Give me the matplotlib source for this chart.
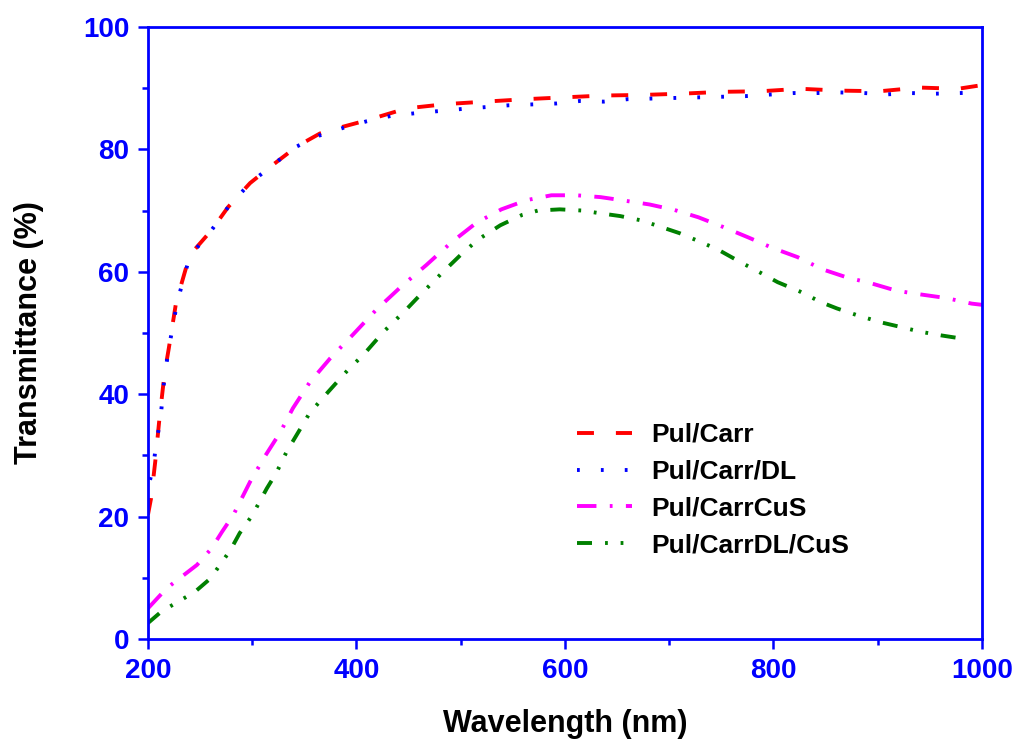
import matplotlib
matplotlib.use('Agg')
import matplotlib.pyplot as plt
from matplotlib.ticker import MultipleLocator

plt.rcParams['font.family'] = ['Liberation Sans', 'DejaVu Sans']
plt.rcParams['font.weight'] = 'bold'
plt.rcParams['lines.scale_dashes'] = False

# values
carr_x = [200, 203, 207, 211, 216, 220, 227, 240, 261, 277, 298, 320, 343, 365, 387, 411,
          448, 486, 523, 562, 599, 637, 675, 712, 750, 788, 826, 864, 902, 940, 977, 1000]
carr_y = [20.3, 23, 29, 36, 43.5, 47.5, 55, 62.7, 66.8, 70.6, 74.5, 77.5, 80.5, 82.6, 83.7, 84.8,
          86.7, 87.4, 87.8, 88.2, 88.5, 88.8, 88.9, 89.1, 89.4, 89.5, 89.9, 89.6, 89.5, 90.1, 89.9, 90.5]

dl_x = [202, 205, 208, 212, 216, 220, 228, 240, 261, 277, 298, 320, 343, 365, 387, 410, 434, 456,
        501, 546, 592, 614, 637, 660, 705, 751, 773, 819, 841, 864, 887, 910, 932, 955, 978, 1000]
dl_y = [26, 28, 32, 36, 43, 47.5, 55, 62.5, 66.8, 70.6, 74.5, 77.5, 80.5, 82.3, 83.5, 84.6, 85.5, 85.9,
        86.6, 87.2, 87.5, 87.9, 87.8, 88.2, 88.4, 88.6, 88.7, 89.2, 89.2, 89.3, 89.2, 89.0, 89.2, 89.1, 89.2, 89.3]

cus_x = [200, 218, 231, 247, 261, 271, 282, 298, 312, 327, 339, 355, 375, 397, 419, 443, 467, 491,
         515, 539, 563, 587, 611, 634, 658, 681, 705, 728, 752, 776, 799, 823, 847, 870, 894, 918,
         941, 966, 990, 1000]
cus_y = [5.0, 8.3, 10, 12.1, 14.8, 17.5, 20.3, 25.7, 29.8, 33.8, 37.7, 41.9, 45.9, 49.8, 53.8, 57.6,
         61.1, 64.8, 68, 70.2, 71.7, 72.5, 72.5, 72.2, 71.6, 71.0, 70.1, 68.9, 67.3, 65.6, 63.9, 62.4,
         60.4, 59.1, 58.1, 56.9, 56.3, 55.7, 54.8, 54.6]

dlcus_x = [200, 213, 229, 245, 260, 269, 279, 288, 300, 314, 323, 333, 346, 355, 373, 392, 407, 426,
           447, 461, 482, 502, 517, 538, 559, 574, 595, 617, 632, 653, 673, 689, 710, 731, 747, 768,
           788, 804, 825, 846, 861, 882, 904, 919, 941, 961, 980]
dlcus_y = [2.6, 4.5, 6.1, 7.7, 9.9, 12.1, 14.5, 17.3, 20.2, 24.6, 27.1, 30.6, 34.3, 36.9, 40.4, 44,
           46.5, 50.2, 53.7, 56.2, 59.8, 63.1, 65.3, 67.6, 69.3, 70, 70.2, 70, 69.6, 69.1, 68.4, 67.5,
           66.3, 64.8, 63.6, 61.6, 59.8, 58.3, 56.8, 55, 54, 52.8, 51.7, 51.1, 50.2, 49.6, 49.1]

labels = ['Pul/Carr', 'Pul/Carr/DL', 'Pul/CarrCuS', 'Pul/CarrDL/CuS']

AXIS_BLUE = '#0000FF'

fig = plt.figure(figsize=(10.19, 7.45), dpi=100)
ax = fig.add_axes([0.1452, 0.1423, 0.8185, 0.8215])

lw = 2.8
ax.plot(carr_x, carr_y, color='#FF0000', lw=lw, dashes=(12.2, 15.8), label=labels[0])
ax.plot(dl_x, dl_y, color='#0000FF', lw=lw, dashes=(2.0, 15.2), label=labels[1])
ax.plot(cus_x, cus_y, color='#FF00FF', lw=lw, dashes=(14.0, 9.6, 2.0, 9.6), label=labels[2])
ax.plot(dlcus_x, dlcus_y, color='#008000', lw=lw,
        dashes=(10.8, 9.4, 2.0, 9.2, 2.0, 9.2), label=labels[3])

ax.set_xlim(200, 1000)
ax.set_ylim(0, 100)
ax.xaxis.set_major_locator(MultipleLocator(200))
ax.xaxis.set_minor_locator(MultipleLocator(100))
ax.yaxis.set_major_locator(MultipleLocator(20))
ax.yaxis.set_minor_locator(MultipleLocator(10))

for s in ax.spines.values():
    s.set_color(AXIS_BLUE)
    s.set_linewidth(2.0)

ax.tick_params(which='major', direction='out', length=7.5, width=1.8, color=AXIS_BLUE,
               labelcolor=AXIS_BLUE, labelsize=20, pad=6)
ax.tick_params(which='minor', direction='out', length=4, width=1.8, color=AXIS_BLUE)
for lab in ax.get_xticklabels() + ax.get_yticklabels():
    lab.set_fontweight('bold')

ax.set_xlabel('Wavelength (nm)', fontsize=22, fontweight='bold', labelpad=18)
ax.set_ylabel('Transmittance (%)', fontsize=22, fontweight='bold', labelpad=28)

leg = ax.legend(loc='upper left', bbox_to_anchor=(0.486, 0.392), frameon=False,
                fontsize=19, handlelength=2.1, handletextpad=0.7, labelspacing=0.49)
for t in leg.get_texts():
    t.set_fontweight('bold')

fig.savefig('out.png', dpi=100)
